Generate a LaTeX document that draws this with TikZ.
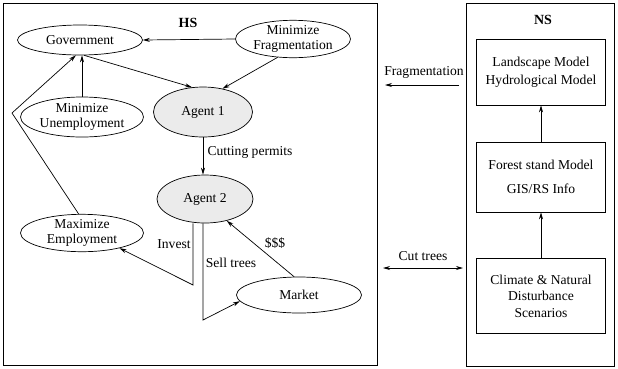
\documentclass[tikz,border=0pt]{standalone}
\usepackage{fontspec}
\setmainfont{Liberation Serif}
\usepackage{tikz}
\usetikzlibrary{arrows.meta,shapes.geometric}
\definecolor{agentgray}{HTML}{EBEBEB}

\begin{document}
\begin{tikzpicture}[x=1pt,y=-1pt,line width=0.7pt,every node/.style={font=\fontsize{13.6}{14.5}\selectfont,align=center},ell/.style={draw,ellipse,inner sep=0pt},agent/.style={ell,fill=agentgray},box/.style={draw,minimum width=129pt,inner sep=0pt},frame/.style={draw,inner sep=0pt},arr/.style={-{Stealth[length=7pt,width=4pt]}},darr/.style={{Stealth[length=7pt,width=4pt]}-{Stealth[length=7pt,width=4pt]}}]
\useasboundingbox (0,0) rectangle (618,368);
% the two systems
\node[frame,minimum width=374pt,minimum height=362pt] (hs) at (190,184) {};
\node[frame,minimum width=148pt,minimum height=363pt] (ns) at (540,184.5) {};
\node[font=\fontsize{14}{15}\selectfont\bfseries] (hslbl) at (188,23) {HS};
\node[font=\fontsize{14}{15}\selectfont\bfseries] (nslbl) at (543,20) {NS};
% human system
\node[ell,minimum width=125pt,minimum height=30pt] (gov) at (80,40) {Government};
\node[ell,minimum width=115pt,minimum height=34pt] (minfrag) at (293,39) {Minimize\\Fragmentation};
\node[ell,minimum width=123pt,minimum height=40pt] (minunemp) at (82,117) {Minimize\\Unemployment};
\node[agent,minimum width=99pt,minimum height=50pt] (agent1) at (203,112) {Agent 1};
\node[agent,minimum width=96pt,minimum height=48pt] (agent2) at (205,199) {Agent 2};
\node[ell,minimum width=123pt,minimum height=36pt] (maxemp) at (82,233) {Maximize\\Employment};
\node[ell,minimum width=125pt,minimum height=36pt] (market) at (299,295) {Market};
\coordinate (bend) at (12,113);
\coordinate (inv) at (193,285);
\coordinate (sell) at (203,320);
\draw[arr] (minfrag.west) -- (gov.east);
\draw[arr] (gov.-75) -- (agent1.114);
\draw[arr] (minfrag.230) -- (agent1.50);
\draw[arr] (minunemp.north) -- (minunemp.north |- gov.south);
\draw[arr] (maxemp.100) -- (bend) -- (gov.255);
\draw[arr] (agent1.south) -- (agent1.south |- agent2.north);
\draw[arr] (agent2.south -| inv) -- (inv) -- (maxemp.-22);
\draw[arr] (agent2.south -| sell) -- (sell) -- (market.186);
\draw[arr] (market.105) -- (agent2.-45);
\node (permits) at (250,152) {Cutting permits};
\node (invest) at (174,244) {Invest};
\node (selltrees) at (231,263) {Sell trees};
\node (money) at (275,243) {\$\$\$};
% natural system
\node[box,minimum height=66pt] (landscape) at (541,72) {Landscape Model\\[3pt]Hydrological Model};
\node[box,minimum height=70pt] (forest) at (541,177) {Forest stand Model\\[9pt]GIS/RS Info};
\node[box,minimum height=75pt] (climate) at (541,296) {Climate \& Natural\\[2pt]Disturbance\\[2pt]Scenarios};
\draw[arr] (forest.north) -- (landscape.south);
\draw[arr] (climate.north) -- (forest.south);
% exchanges
\coordinate (fragR) at (459,85);
\coordinate (fragL) at (385,85);
\coordinate (cutL) at (383,268);
\coordinate (cutR) at (463,268);
\draw[arr] (fragR) -- (fragL);
\draw[darr] (cutL) -- (cutR);
\node (fraglbl) at (424,72) {Fragmentation};
\node (cutlbl) at (423,256) {Cut trees};
\end{tikzpicture}
\end{document}
